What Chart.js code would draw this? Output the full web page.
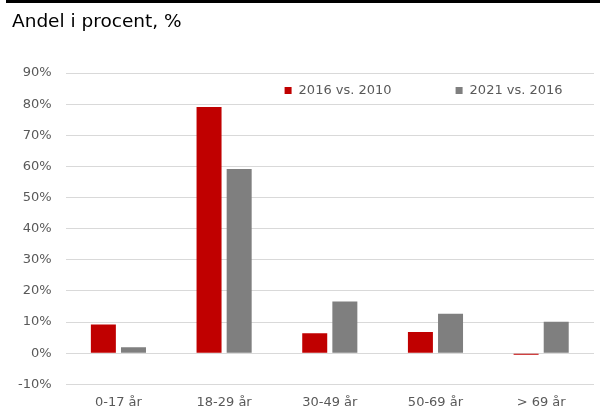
<!DOCTYPE html>
<html>
<head>
<meta charset="utf-8">
<script src="https://cdn.jsdelivr.net/npm/chart.js@4"></script>
<style>
  html, body { margin: 0; padding: 0; background: #fff; }
  #wrap { position: relative; width: 600px; height: 409px; overflow: hidden; }
  #topline { position: absolute; left: 6px; right: 0; top: 0; height: 3px; background: #000; }
  #title { position: absolute; left: 12px; top: 12px; font: 18.5px "DejaVu Sans", Verdana, sans-serif; line-height: 18.5px; color: #000; }
  canvas { position: absolute; left: 0; top: 0; }
</style>
</head>
<body>
<div id="wrap">
  <canvas id="ageChart" width="600" height="420"></canvas>
  <div id="topline"></div>
  <div id="title">Andel i procent, %</div>
</div>
<script>
// Age groups and change in share (percent)
const ageGroups = ["0-17 år", "18-29 år", "30-49 år", "50-69 år", "> 69 år"];
const change2016vs2010 = [9.2, 79.1, 6.4, 6.8, -0.5];
const change2021vs2016 = [1.9, 59.2, 16.6, 12.7, 10.1];
const seriesNames = ["2016 vs. 2010", "2021 vs. 2016"];
const yMin = -10, yMax = 90, yStep = 10;

const tickFont = { family: "'DejaVu Sans', sans-serif", size: 13 };
const tickColor = "#595959";

// legend drawn inside the plot, top right
const insideLegend = {
    id: "insideLegend",
    afterDraw(chart) {
        const ctx = chart.ctx;
        const area = chart.chartArea;
        const y = area.top + 18;
        ctx.save();
        ctx.font = tickFont.size + "px " + tickFont.family;
        ctx.textBaseline = "middle";
        chart.data.datasets.forEach(function (ds, i) {
            const x = area.left + 219 + i * 171;
            ctx.fillStyle = ds.backgroundColor;
            ctx.fillRect(x, y - 4, 7, 7);
            ctx.fillStyle = tickColor;
            ctx.fillText(ds.label, x + 14, y);
        });
        ctx.restore();
    }
};

const ctx = document.getElementById("ageChart");
new Chart(ctx, {
    type: "bar",
    data: {
        labels: ageGroups,
        datasets: [{
            label: seriesNames[0],
            data: change2016vs2010,
            backgroundColor: "#c00000",
            categoryPercentage: 0.57,
            barPercentage: 0.83
        }, {
            label: seriesNames[1],
            data: change2021vs2016,
            backgroundColor: "#7f7f7f",
            categoryPercentage: 0.57,
            barPercentage: 0.83
        }]
    },
    options: {
        responsive: false,
        animation: false,
        layout: { padding: { top: 73, left: 4, right: 6, bottom: 0 } },
        plugins: {
            legend: { display: false },
            tooltip: { enabled: false }
        },
        scales: {
            x: {
                grid: { display: false, drawTicks: false },
                border: { display: false },
                ticks: { color: tickColor, font: tickFont, padding: 10 }
            },
            y: {
                min: yMin,
                max: yMax,
                grid: { color: "#d9d9d9", lineWidth: 1, drawTicks: false },
                border: { display: false },
                ticks: {
                    stepSize: yStep,
                    color: tickColor,
                    font: tickFont,
                    padding: 14,
                    callback: function (v) { return v + "%"; }
                }
            }
        }
    },
    plugins: [insideLegend]
});
</script>
</body>
</html>
